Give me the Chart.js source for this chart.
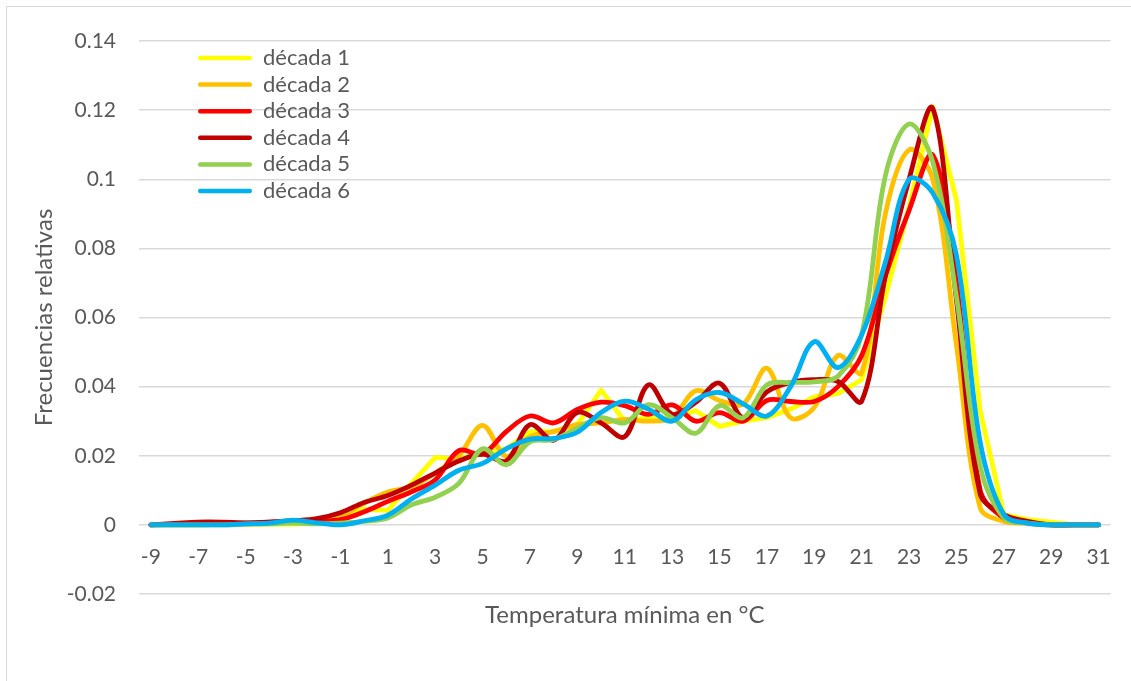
<!DOCTYPE html>
<html>
<head>
<meta charset="utf-8">
<title>Frecuencias relativas de la temperatura mínima por década</title>
<script src="https://cdn.jsdelivr.net/npm/chart.js@4.4.1/dist/chart.umd.min.js"></script>
<style>
  html, body { margin: 0; padding: 0; background: #ffffff; overflow: hidden; }
  #wrap { position: relative; width: 1131px; height: 681px; }
  #frame { position: absolute; left: 6px; top: 6px; width: 1200px; height: 800px;
           border: 1.5px solid #d9d9d9; box-sizing: border-box; }
  #c { position: absolute; left: 0; top: 0; }
</style>
</head>
<body>
<div id="wrap">
  <div id="frame"></div>
  <canvas id="c" width="1131" height="681"></canvas>
</div>
<script>
// Temperatura mínima (°C), una categoría por grado
const temperaturas = ['-9','-8','-7','-6','-5','-4','-3','-2','-1','0','1','2','3','4','5','6','7','8','9','10',
  '11','12','13','14','15','16','17','18','19','20','21','22','23','24','25','26','27','28','29','30','31'];

// Frecuencias relativas por década
const decada1 = [0, 0, 0, 0.0002, 0.0002, 0.0003, 0.0002, 0.0005, 0.0015, 0.0045, 0.0042, 0.012, 0.0195, 0.019,
  0.021, 0.022, 0.027, 0.027, 0.029, 0.039, 0.030, 0.031, 0.031, 0.033, 0.0285, 0.030, 0.031, 0.0335, 0.037,
  0.038, 0.042, 0.066, 0.092, 0.121, 0.094, 0.033, 0.003, 0.0015, 0.0008, 0, 0];
const decada2 = [0, 0, 0, 0.0002, 0.0003, 0.0005, 0.0008, 0.001, 0.0025, 0.0063, 0.0095, 0.011, 0.015, 0.020,
  0.0288, 0.0198, 0.0255, 0.027, 0.029, 0.0295, 0.0305, 0.030, 0.031, 0.0388, 0.036, 0.035, 0.0453, 0.031, 0.034,
  0.049, 0.044, 0.090, 0.1085, 0.100, 0.052, 0.005, 0.001, 0.0005, 0, 0, 0];
const decada3 = [0, 0.0002, 0.0005, 0.0005, 0.0005, 0.0008, 0.001, 0.0012, 0.0015, 0.0038, 0.0068, 0.0096, 0.013,
  0.0215, 0.0205, 0.027, 0.0315, 0.0295, 0.0334, 0.0355, 0.0345, 0.032, 0.0347, 0.030, 0.0325, 0.030, 0.036,
  0.0357, 0.0357, 0.040, 0.049, 0.072, 0.091, 0.107, 0.070, 0.010, 0.002, 0.0005, 0, 0, 0];
const decada4 = [0, 0.0004, 0.0008, 0.0008, 0.0006, 0.0008, 0.0012, 0.0018, 0.0035, 0.0065, 0.0085, 0.0115, 0.015,
  0.0185, 0.0205, 0.0185, 0.029, 0.0245, 0.0325, 0.0295, 0.0255, 0.0405, 0.032, 0.0355, 0.041, 0.031, 0.0385,
  0.0412, 0.042, 0.0415, 0.0358, 0.072, 0.100, 0.1205, 0.065, 0.009, 0.003, 0.001, 0, 0, 0];
const decada5 = [0, 0, 0, 0, 0.0002, 0.0003, 0.0005, 0.0003, 0.0005, 0.001, 0.002, 0.0058, 0.008, 0.012, 0.022,
  0.0174, 0.024, 0.0247, 0.028, 0.031, 0.0295, 0.0348, 0.031, 0.0265, 0.0345, 0.031, 0.0405, 0.0412, 0.0414,
  0.043, 0.055, 0.101, 0.116, 0.105, 0.066, 0.017, 0.002, 0.0005, 0, 0, 0];
const decada6 = [0, 0, 0, 0, 0.0003, 0.0005, 0.0014, 0.0006, 0, 0.0012, 0.0028, 0.0075, 0.0115, 0.0158, 0.0178,
  0.022, 0.0248, 0.025, 0.0268, 0.0325, 0.0358, 0.0335, 0.030, 0.0362, 0.0383, 0.035, 0.0315, 0.040, 0.053,
  0.0455, 0.055, 0.076, 0.100, 0.096, 0.078, 0.024, 0.003, 0.0005, 0, 0, 0];

const nombresSeries = ['década 1', 'década 2', 'década 3', 'década 4', 'década 5', 'década 6'];
const valoresSeries = [decada1, decada2, decada3, decada4, decada5, decada6];
const coloresSeries = ['#FFFF00', '#FFC000', '#FF0000', '#C00000', '#92D050', '#00B0F0'];
// La primera década se traza con segmentos rectos, el resto suavizadas
const suavizado = [0, 0.35, 0.35, 0.35, 0.35, 0.35];

// Etiquetas del eje vertical
const etiquetasY = ['-0.02', '0', '0.02', '0.04', '0.06', '0.08', '0.1', '0.12', '0.14'];

const GRIS_TEXTO = '#595959';
const FUENTE = 'Lato, "Open Sans", sans-serif';

const datasets = nombresSeries.map((nombre, i) => ({
  label: nombre,
  data: valoresSeries[i],
  borderColor: coloresSeries[i],
  backgroundColor: coloresSeries[i],
  borderWidth: 4.8,
  borderCapStyle: 'round',
  borderJoinStyle: 'round',
  pointRadius: 0,
  pointHoverRadius: 0,
  fill: false,
  tension: suavizado[i],
  order: nombresSeries.length - i   // later decades are drawn on top
}));

// Moves the legend block inside the plot area to its left offset
const leyendaInterior = {
  id: 'leyendaInterior',
  afterLayout(chart) {
    const lg = chart.legend;
    if (!lg) return;
    const pad = lg.options.labels.padding;
    lg.left = 198 - pad;
    lg.top = chart.chartArea.top + 1.4;
  }
};

new Chart(document.getElementById('c'), {
  type: 'line',
  data: { labels: temperaturas, datasets },
  plugins: [leyendaInterior],
  options: {
    responsive: false,
    animation: false,
    devicePixelRatio: 1,
    layout: { padding: { left: 0, top: 41, right: 16, bottom: 87 } },
    plugins: {
      tooltip: { enabled: false },
      title: { display: false },
      legend: {
        position: 'chartArea',
        align: 'start',
        reverse: true,
        labels: {
          boxWidth: 54,
          boxHeight: 4.5,
          padding: 4.6,
          color: GRIS_TEXTO,
          font: { family: FUENTE, size: 22 },
          generateLabels(chart) {
            const items = Chart.defaults.plugins.legend.labels.generateLabels(chart);
            items.forEach(it => {
              it.fillStyle = it.strokeStyle;
              it.lineWidth = 0;
              it.borderRadius = 2.2;
              it.fontColor = GRIS_TEXTO;
            });
            return items;
          }
        }
      }
    },
    scales: {
      x: {
        type: 'category',
        position: { y: 0 },
        offset: true,
        grid: { display: false, drawTicks: false },
        border: { display: false },
        ticks: {
          autoSkip: false,
          maxRotation: 0,
          minRotation: 0,
          padding: 20,
          color: GRIS_TEXTO,
          font: { family: FUENTE, size: 21 },
          callback: (v, i) => (i % 2 === 0 ? temperaturas[i] : '')
        },
        title: {
          display: true,
          text: 'Temperatura mínima en °C',
          color: GRIS_TEXTO,
          font: { family: FUENTE, size: 24 },
          padding: 0
        },
        afterFit(scale) { scale.height = 104.4; }
      },
      y: {
        min: -0.02,
        max: 0.14,
        grid: { color: '#d9d9d9', lineWidth: 1.5, drawTicks: false },
        border: { display: false },
        ticks: {
          stepSize: 0.02,
          padding: 23,
          color: GRIS_TEXTO,
          font: { family: FUENTE, size: 21 },
          callback: (v, i) => etiquetasY[i]
        },
        title: {
          display: true,
          text: 'Frecuencias relativas',
          color: GRIS_TEXTO,
          font: { family: FUENTE, size: 24 },
          padding: { top: 29.6, bottom: 0 }
        },
        afterFit(scale) { scale.width = 139; }
      }
    }
  }
});
</script>
</body>
</html>
